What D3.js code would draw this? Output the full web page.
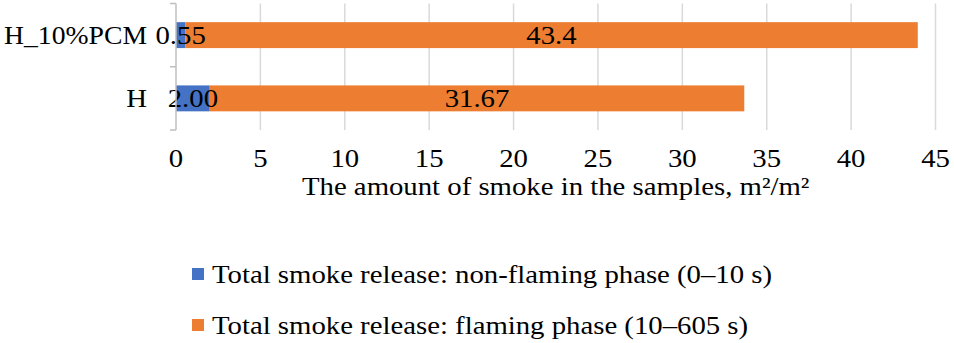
<!DOCTYPE html>
<html>
<head>
<meta charset="utf-8">
<script src="https://cdn.jsdelivr.net/npm/d3@7"></script>
<style>
  body { margin: 0; background: #fff; }
</style>
</head>
<body>
<svg id="chart"></svg>
<script>
// Data
const categories = ['H_10%PCM', 'H'];
const nonFlaming = [0.55, 2.00];
const flaming = [43.4, 31.67];
const seriesNames = [
    'Total smoke release: non-flaming phase (0\u201310 s)',
    'Total smoke release: flaming phase (10\u2013605 s)'
];
const seriesColors = ['#4472C4', '#ED7D31'];
const xTicks = [0, 5, 10, 15, 20, 25, 30, 35, 40, 45];
const nonFlamingLabels = ['0.55', '2.00'];
const flamingLabels = ['43.4', '31.67'];

const width = 954;
const height = 343;
const fontSize = 25;
const stretch = 1.15; // reference text is slightly wider than Times

const svg = d3.select('#chart')
    .attr('width', width)
    .attr('height', height)
    .attr('font-family', "'Liberation Serif', 'Times New Roman', Times, serif");

// widen text a little to match the picture (optionally capped)
function widen(sel, maxLen = Infinity) {
    sel.each(function() {
        const len = this.getComputedTextLength();
        d3.select(this)
            .attr('textLength', Math.min(len * stretch, maxLen))
            .attr('lengthAdjust', 'spacingAndGlyphs');
    });
}

// Plot area
const plotLeft = 176, plotRight = 935.5, plotTop = 3.5, plotBottom = 130;

const x = d3.scaleLinear().domain([0, 45]).range([plotLeft, plotRight]);
const y = d3.scaleBand().domain(categories).range([plotTop, plotBottom]).paddingInner(0.59).paddingOuter(0.295);

// Gridlines
svg.append('g')
    .selectAll('line')
    .data(xTicks.slice(1))
    .join('line')
    .attr('x1', d => x(d)).attr('x2', d => x(d))
    .attr('y1', plotTop).attr('y2', plotBottom)
    .attr('stroke', '#d9d9d9')
    .attr('stroke-width', 1.5);

// Stacked rows
const rows = categories.map((c, i) => ({
    cat: c,
    segs: [
        { start: 0, end: nonFlaming[i], color: seriesColors[0], label: nonFlamingLabels[i] },
        { start: nonFlaming[i], end: nonFlaming[i] + flaming[i], color: seriesColors[1], label: flamingLabels[i] }
    ]
}));

const rowG = svg.selectAll('.row')
    .data(rows)
    .join('g')
    .attr('class', 'row');

rowG.selectAll('rect')
    .data(d => d.segs.map(s => ({ ...s, cat: d.cat })))
    .join('rect')
    .attr('x', d => x(d.start))
    .attr('width', d => x(d.end) - x(d.start))
    .attr('y', d => y(d.cat))
    .attr('height', y.bandwidth())
    .attr('fill', d => d.color);

rowG.selectAll('text.val')
    .data(d => d.segs.map(s => ({ ...s, cat: d.cat })))
    .join('text')
    .attr('class', 'val')
    .attr('x', d => x((d.start + d.end) / 2))
    .attr('y', d => y(d.cat) + y.bandwidth() / 2)
    .attr('dy', '0.35em')
    .attr('text-anchor', 'middle')
    .attr('font-size', fontSize)
    .text(d => d.label)
    .call(widen);

// Left axis (bracket style)
const axisG = svg.append('g').attr('stroke', '#bfbfbf').attr('stroke-width', 1.5);
axisG.append('line')
    .attr('x1', plotLeft).attr('x2', plotLeft)
    .attr('y1', plotTop).attr('y2', plotBottom);
axisG.selectAll('line.tick')
    .data([plotTop, (plotTop + plotBottom) / 2, plotBottom])
    .join('line')
    .attr('class', 'tick')
    .attr('x1', plotLeft - 6).attr('x2', plotLeft)
    .attr('y1', d => d).attr('y2', d => d);

// Category labels
svg.selectAll('.cat')
    .data(categories)
    .join('text')
    .attr('class', 'cat')
    .attr('x', 147)
    .attr('y', d => y(d) + y.bandwidth() / 2)
    .attr('dy', '0.35em')
    .attr('text-anchor', 'end')
    .attr('font-size', fontSize)
    .text(d => d)
    .call(widen, 143);

// X tick labels
svg.selectAll('.xt')
    .data(xTicks)
    .join('text')
    .attr('class', 'xt')
    .attr('x', d => x(d))
    .attr('y', 167)
    .attr('text-anchor', 'middle')
    .attr('font-size', fontSize)
    .text(d => d)
    .call(widen);

// Axis title
svg.append('text')
    .attr('x', (plotLeft + plotRight) / 2)
    .attr('y', 195)
    .attr('text-anchor', 'middle')
    .attr('font-size', fontSize)
    .text('The amount of smoke in the samples, m\u00b2/m\u00b2')
    .call(widen);

// Legend
const legend = svg.selectAll('.leg')
    .data(seriesNames)
    .join('g')
    .attr('class', 'leg')
    .attr('transform', (d, i) => `translate(192, ${274 + i * 51})`);

legend.append('rect')
    .attr('x', 0).attr('y', -6)
    .attr('width', 12).attr('height', 12)
    .attr('fill', (d, i) => seriesColors[i]);

legend.append('text')
    .attr('x', 20)
    .attr('y', 0)
    .attr('dy', '0.35em')
    .attr('font-size', fontSize)
    .text(d => d)
    .call(widen);
</script>
</body>
</html>
